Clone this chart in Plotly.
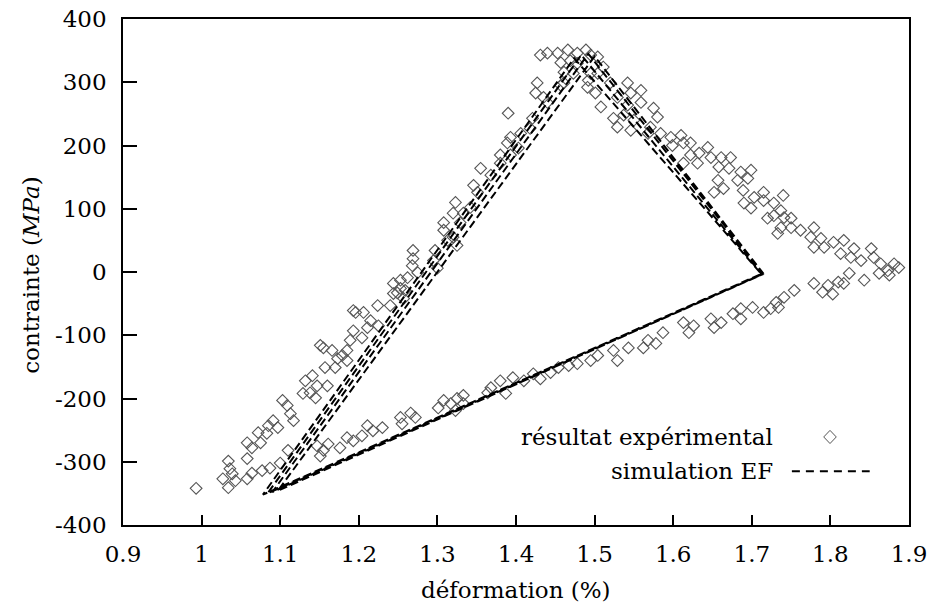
import plotly.graph_objects as go

# ---- data ----
x_ticks = [0.9, 1.0, 1.1, 1.2, 1.3, 1.4, 1.5, 1.6, 1.7, 1.8, 1.9]
x_labels = ["0.9", "1", "1.1", "1.2", "1.3", "1.4", "1.5", "1.6", "1.7", "1.8", "1.9"]
y_ticks = [-400, -300, -200, -100, 0, 100, 200, 300, 400]
y_labels = ["-400", "-300", "-200", "-100", "0", "100", "200", "300", "400"]

# experimental points: rising branch (loading)
exp_rise = [
    (0.993, -342), (1.027, -327), (1.034, -341), (1.043, -330), (1.039, -319), (1.036, -311),
    (1.034, -299), (1.058, -295), (1.058, -270), (1.064, -278), (1.072, -254), (1.075, -270),
    (1.083, -255), (1.085, -243), (1.091, -235), (1.097, -246), (1.103, -203), (1.109, -211),
    (1.113, -224), (1.117, -235), (1.129, -192), (1.132, -172), (1.138, -191), (1.141, -164),
    (1.145, -199), (1.147, -180), (1.160, -180), (1.151, -116), (1.155, -120), (1.157, -151),
    (1.170, -151), (1.166, -124), (1.173, -137), (1.179, -132), (1.185, -140), (1.185, -124),
    (1.189, -108), (1.193, -93), (1.204, -104), (1.211, -88), (1.193, -61), (1.196, -64),
    (1.206, -64), (1.215, -77), (1.224, -53), (1.225, -85), (1.240, -53), (1.244, -18),
    (1.244, -34), (1.249, -33), (1.253, -13), (1.253, -26), (1.257, -42), (1.259, -29),
    (1.262, -9), (1.268, 10), (1.269, 21), (1.269, 34), (1.275, -1), (1.295, 18), (1.297, 34),
    (1.300, 6), (1.308, 66), (1.308, 78), (1.313, 50), (1.320, 55), (1.320, 93), (1.323, 110),
    (1.325, 42), (1.329, 78), (1.333, 93), (1.342, 102), (1.346, 137), (1.351, 126),
    (1.355, 164), (1.368, 153), (1.380, 172), (1.380, 185), (1.389, 204), (1.390, 251),
    (1.393, 185), (1.393, 213), (1.403, 196), (1.406, 219), (1.418, 227), (1.421, 243),
    (1.425, 283), (1.427, 299), (1.435, 276), (1.440, 268), (1.431, 343),
]

# experimental points: around the peak
exp_peak = [
    (1.440, 346), (1.453, 346), (1.466, 351), (1.469, 334), (1.457, 331), (1.461, 316),
    (1.478, 346), (1.489, 351), (1.495, 343), (1.478, 330), (1.473, 314), (1.461, 299),
    (1.457, 295), (1.491, 292), (1.492, 303), (1.501, 283), (1.504, 314), (1.508, 261),
    (1.504, 340), (1.511, 324), (1.495, 314), (1.520, 299), (1.529, 276), (1.542, 299),
    (1.546, 283), (1.559, 287), (1.542, 264), (1.559, 268), (1.524, 243), (1.529, 229),
    (1.537, 248), (1.546, 224), (1.550, 240), (1.575, 259), (1.580, 245), (1.571, 229),
]

# experimental points: descending branch (unloading)
exp_fall = [
    (1.568, 219), (1.584, 219), (1.597, 213), (1.610, 216), (1.599, 200), (1.613, 204),
    (1.622, 204), (1.622, 185), (1.633, 188), (1.631, 172), (1.644, 197), (1.648, 181),
    (1.613, 172), (1.661, 181), (1.673, 181), (1.658, 166), (1.671, 164), (1.657, 145),
    (1.652, 126), (1.664, 132), (1.682, 145), (1.686, 158), (1.699, 161), (1.695, 148),
    (1.689, 129), (1.690, 109), (1.703, 118), (1.699, 101), (1.715, 126), (1.715, 113),
    (1.728, 109), (1.740, 121), (1.737, 97), (1.720, 85), (1.728, 89), (1.741, 86),
    (1.750, 85), (1.737, 70), (1.733, 61), (1.750, 70), (1.762, 66), (1.779, 70),
    (1.775, 55), (1.788, 53), (1.779, 39), (1.792, 39), (1.804, 47), (1.817, 50),
    (1.813, 29), (1.830, 37), (1.826, 23), (1.839, 18), (1.852, 37), (1.855, 23),
    (1.864, 13), (1.873, 2), (1.881, 13), (1.887, 7), (1.875, -5), (1.862, -2),
]

# experimental points: lower return branch
exp_return = [
    (1.058, -327), (1.064, -318), (1.077, -314), (1.087, -310), (1.100, -302), (1.110, -282),
    (1.151, -291), (1.147, -275), (1.155, -282), (1.161, -272), (1.176, -278), (1.185, -262),
    (1.193, -267), (1.204, -259), (1.211, -243), (1.218, -251), (1.230, -246), (1.253, -230),
    (1.255, -240), (1.266, -223), (1.272, -230), (1.301, -215), (1.308, -203), (1.317, -208),
    (1.323, -219), (1.325, -200), (1.333, -195), (1.333, -208), (1.364, -191), (1.368, -183),
    (1.380, -172), (1.387, -192), (1.396, -167), (1.410, -172), (1.422, -161), (1.431, -169),
    (1.444, -159), (1.454, -151), (1.467, -148), (1.478, -145), (1.495, -140), (1.504, -132),
    (1.524, -124), (1.529, -140), (1.543, -120), (1.562, -120), (1.568, -108), (1.578, -113),
    (1.587, -96), (1.613, -80), (1.620, -96), (1.626, -85), (1.648, -74), (1.652, -88),
    (1.661, -80), (1.676, -66), (1.686, -58), (1.686, -74), (1.701, -56), (1.715, -64),
    (1.724, -58), (1.731, -48), (1.734, -56), (1.741, -40), (1.754, -29), (1.779, -18),
    (1.790, -32), (1.797, -21), (1.803, -35), (1.810, -16), (1.817, -18), (1.824, -2),
    (1.843, -13),
]

# finite-element simulation (several cycles)
sim_x = [1.712, 1.078, 1.474, 1.712, 1.084, 1.483, 1.713, 1.090, 1.492, 1.714, 1.097, 1.500, 1.715]
sim_y = [-4, -352, 338, -3, -350, 343, -4, -348, 345, -3, -346, 341, -3]

# ---- figure ----
exp_all = exp_rise + exp_peak + exp_fall + exp_return
exp_x = [p[0] for p in exp_all]
exp_y = [p[1] for p in exp_all]

FONT = "DejaVu Serif"
GRAY = "#555555"
fig = go.Figure()
fig.add_trace(go.Scatter(
    x=exp_x, y=exp_y, mode="markers", name="résultat expérimental",
    marker=dict(symbol="diamond-open", size=9, color=GRAY, line=dict(width=1.1, color=GRAY)),
))
fig.add_trace(go.Scatter(
    x=sim_x, y=sim_y, mode="lines", name="simulation EF",
    line=dict(color="black", width=2, dash="8px,4px"),
))

axis_common = dict(
    showgrid=False, zeroline=False, showline=True, linecolor="black", linewidth=1.5,
    mirror=True, ticks="inside", tickcolor="black", tickwidth=1.5, automargin=False,
    ticklabeloverflow="allow",
    tickfont=dict(family=FONT, size=23, color="black"),
)
fig.update_xaxes(range=[0.9, 1.9], tickvals=x_ticks, ticktext=x_labels, ticklen=10,
                 ticklabelstandoff=8, **axis_common)
fig.update_yaxes(range=[-400, 400], tickvals=y_ticks, ticktext=y_labels, ticklen=14,
                 ticklabelstandoff=10, **axis_common)

lab_font = dict(family=FONT, size=23, color="black")
fig.update_layout(
    width=930, height=605,
    margin=dict(l=123, r=21, t=19, b=80, autoexpand=False),
    plot_bgcolor="white", paper_bgcolor="white",
    showlegend=False,
    annotations=[
        dict(text="déformation (%)", xref="paper", yref="paper", x=0.5, y=-0.128,
             xanchor="center", yanchor="middle", showarrow=False, font=lab_font),
        dict(text="contrainte (<i>MPa</i>)", xref="paper", yref="paper", x=-0.118, y=0.495,
             xanchor="center", yanchor="middle", textangle=-90, showarrow=False, font=lab_font),
        dict(text="résultat expérimental", xref="paper", yref="paper", x=0.829, y=0.174,
             xanchor="right", yanchor="middle", showarrow=False, font=lab_font),
        dict(text="simulation EF", xref="paper", yref="paper", x=0.829, y=0.106,
             xanchor="right", yanchor="middle", showarrow=False, font=lab_font),
    ],
    shapes=[
        dict(type="path", xref="paper", yref="paper",
             path="M 0.8995 0.187 L 0.9075 0.174 L 0.8995 0.161 L 0.8915 0.174 Z",
             line=dict(color=GRAY, width=1)),
        dict(type="line", xref="paper", yref="paper", x0=0.851, x1=0.95, y0=0.106, y1=0.106,
             line=dict(color="black", width=2, dash="8px,6px")),
    ],
)

# remove the default page margin so the 930x605 figure fills the window exactly
fig.write_html("out.html",
               config={"displayModeBar": False},
               post_script="document.body.style.margin='0';document.body.style.overflow='hidden';")
